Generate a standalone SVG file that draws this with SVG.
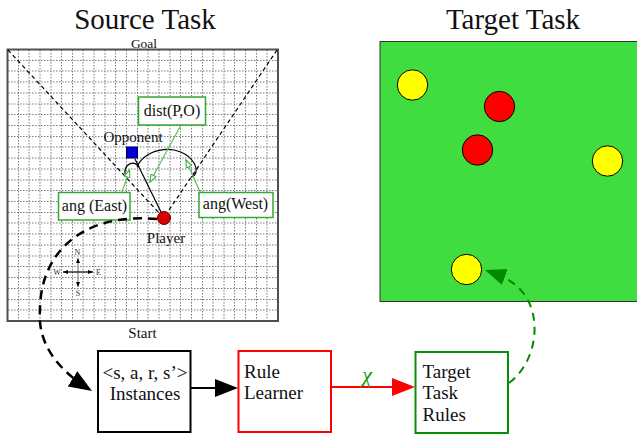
<svg xmlns="http://www.w3.org/2000/svg" width="637" height="435" viewBox="0 0 637 435">
  <style>
    text { font-family: "Liberation Serif", "Times New Roman", serif; fill: #111; }
    .title { font-size: 29px; text-anchor: middle; }
    .lbl { font-size: 15px; text-anchor: middle; }
    .small { font-size: 13.5px; }
    .tag { font-size: 16px; text-anchor: middle; }
    .big { font-size: 19px; }
    .mid { text-anchor: middle; }
    .tiny { font-size: 8px; text-anchor: middle; fill: #333; }
    .grid { stroke: #7a7a7a; stroke-width: 1; stroke-dasharray: 1.5 1.5; fill: none; }
    .diag { stroke: #000; stroke-width: 1.2; stroke-dasharray: 4 3; fill: none; }
    .tagbox { fill: #fff; stroke: #33a833; stroke-width: 1.5; }
    .pointer { stroke: #5cbf5c; stroke-width: 1.2; fill: none; marker-end: url(#hollow); }
    .arc { stroke: #000; stroke-width: 1.2; fill: none; }
    .ball { stroke: #000; stroke-width: 1; }
  </style>
  <defs>
    <marker id="headBlack" markerUnits="userSpaceOnUse" viewBox="0 0 23 18" markerWidth="23" markerHeight="18" refX="19" refY="9" orient="auto">
      <path d="M0,0 L23,9 L0,18 z" fill="#000"/>
    </marker>
    <marker id="headRed" markerUnits="userSpaceOnUse" viewBox="0 0 23 18" markerWidth="23" markerHeight="18" refX="19" refY="9" orient="auto">
      <path d="M0,0 L23,9 L0,18 z" fill="#ff0000"/>
    </marker>
    <marker id="headGreen" markerUnits="userSpaceOnUse" viewBox="0 0 21 17" markerWidth="21" markerHeight="17" refX="17" refY="8.5" orient="auto">
      <path d="M0,0 L21,8.5 L0,17 z" fill="#008a00"/>
    </marker>
    <marker id="hollow" markerUnits="userSpaceOnUse" viewBox="0 0 9 7" markerWidth="9" markerHeight="7" refX="8" refY="3.5" orient="auto">
      <path d="M0.6,0.6 L8.2,3.5 L0.6,6.4 z" fill="#fff" stroke="#33a833" stroke-width="1"/>
    </marker>
    <marker id="tick" markerUnits="userSpaceOnUse" viewBox="0 0 5 4" markerWidth="5" markerHeight="4" refX="5" refY="2" orient="auto-start-reverse">
      <path d="M0,0 L5,2 L0,4 z" fill="#000"/>
    </marker>
  </defs>

  <!-- Source task: grid field with player, opponent and angle features -->
  <g id="source-task">
    <text class="title" x="145" y="29">Source Task</text>
    <text class="lbl small" x="144" y="47.5">Goal</text>
    <rect x="7.5" y="49.5" width="270.5" height="271.5" fill="#fff"/>
    <path class="grid" d="M18.5,50V321M29,50V321M40,50V321M51,50V321M61.5,50V321M72.5,50V321M83,50V321M94,50V321M105,50V321M115.5,50V321M126.5,50V321M137.5,50V321M148,50V321M159,50V321M170,50V321M180.5,50V321M191.5,50V321M202.5,50V321M213,50V321M224,50V321M234.5,50V321M245.5,50V321M256.5,50V321M267,50V321"/>
    <path class="grid" d="M8,60.5H278M8,71H278M8,82H278M8,93H278M8,104H278M8,114.5H278M8,125.5H278M8,136.5H278M8,147H278M8,158H278M8,169H278M8,180H278M8,190.5H278M8,201.5H278M8,212.5H278M8,223H278M8,234H278M8,245H278M8,256H278M8,266.5H278M8,277.5H278M8,288.5H278M8,299.5H278M8,310H278"/>
    <rect x="7.5" y="49.5" width="270.5" height="271.5" fill="none" stroke="#505050" stroke-width="2"/>
    <text class="lbl" x="142.5" y="337.5">Start</text>

    <!-- sight lines from the goal corners to the player -->
    <path class="diag" d="M8,50 L160,214"/>
    <path class="diag" d="M277,50 L167,213"/>

    <!-- player-to-opponent line and angle arcs -->
    <path d="M135,159 L161,212" stroke="#000" stroke-width="1.2" fill="none"/>
    <path class="arc" d="M125,174 C124,165 133,159 139,167"/>
    <path class="arc" d="M137,167 C145,147 181,142 194,163 C198,170 196,176 191,177"/>

    <g id="opponent">
      <rect x="126.5" y="147" width="11" height="11" fill="#0000dd" stroke="#000055" stroke-width="1"/>
      <text class="lbl" x="133" y="141.5">Opponent</text>
    </g>
    <g id="player">
      <circle cx="164" cy="218" r="6.5" fill="#dd0000" stroke="#550000" stroke-width="1"/>
      <text class="lbl" x="166" y="242.5">Player</text>
    </g>

    <!-- feature labels with pointers -->
    <path class="pointer" d="M181,125 L150,182"/>
    <path class="pointer" d="M122,192 L129.5,170"/>
    <path class="pointer" d="M200,192 L186,160"/>
    <g id="dist-label">
      <rect class="tagbox" x="138.5" y="97" width="67" height="28"/>
      <text class="tag" x="172" y="116">dist(P,O)</text>
    </g>
    <g id="ang-east-label">
      <rect class="tagbox" x="58.5" y="192.5" width="71.5" height="27.5"/>
      <text class="tag" x="94.5" y="210.5">ang (East)</text>
    </g>
    <g id="ang-west-label">
      <rect class="tagbox" x="199" y="192.5" width="74" height="25"/>
      <text class="tag" x="235.5" y="208.5">ang(West)</text>
    </g>

    <!-- compass -->
    <g id="compass">
      <path d="M78,258 V287" stroke="#888" stroke-width="1.2" marker-start="url(#tick)" marker-end="url(#tick)"/>
      <path d="M63,272 H93" stroke="#000" stroke-width="1.2" marker-start="url(#tick)" marker-end="url(#tick)"/>
      <text class="tiny" x="77.5" y="254.5">N</text>
      <text class="tiny" x="78" y="296">S</text>
      <text class="tiny" x="57" y="275">W</text>
      <text class="tiny" x="98.5" y="275">E</text>
    </g>
  </g>

  <!-- Target task: green field with balls -->
  <g id="target-task">
    <text class="title" x="513" y="29">Target Task</text>
    <rect x="380" y="41.5" width="262" height="260" fill="#40dd40" stroke="#333" stroke-width="1"/>
    <circle class="ball" cx="412.5" cy="85" r="15.2" fill="#ffff00"/>
    <circle class="ball" cx="499.5" cy="106.5" r="15.2" fill="#ff0000"/>
    <circle class="ball" cx="477.5" cy="150" r="15.2" fill="#ff0000"/>
    <circle class="ball" cx="607.5" cy="161" r="15.2" fill="#ffff00"/>
    <circle class="ball" cx="466.5" cy="269.5" r="15.2" fill="#ffff00"/>
  </g>

  <!-- Pipeline boxes -->
  <g id="instances">
    <rect x="98" y="351" width="92.5" height="81" fill="#fff" stroke="#000" stroke-width="2"/>
    <text class="big mid" x="145" y="379">&lt;s, a, r, s’&gt;</text>
    <text class="big mid" x="145" y="400">Instances</text>
  </g>
  <g id="rule-learner">
    <rect x="238.5" y="351" width="92.5" height="81" fill="#fff" stroke="#ff0000" stroke-width="2"/>
    <text class="big" x="244" y="377.5">Rule</text>
    <text class="big" x="244" y="399">Learner</text>
  </g>
  <g id="target-rules">
    <rect x="415.5" y="352" width="92.5" height="81" fill="#fff" stroke="#0a8f0a" stroke-width="2"/>
    <text class="big" x="422.5" y="377.5">Target</text>
    <text class="big" x="422.5" y="399">Task</text>
    <text class="big" x="422.5" y="420.5">Rules</text>
  </g>

  <!-- Connectors -->
  <g id="connectors">
    <path d="M157,219 C80,212 40,255 40,310 C37,345 60,371 88.6,388.9" fill="none" stroke="#000" stroke-width="2.5" stroke-dasharray="9 6" marker-end="url(#headBlack)"/>
    <path d="M191,388 L234,388" fill="none" stroke="#000" stroke-width="2" marker-end="url(#headBlack)"/>
    <path d="M332,387 L411,387" fill="none" stroke="#ff0000" stroke-width="2" marker-end="url(#headRed)"/>
    <text class="mid" x="367" y="382" style="font-size:22px; font-style:italic; fill:#119911">χ</text>
    <path d="M509,383 C537,362 542,318 524,294 C514,281 502,276 488.8,271.3" fill="none" stroke="#008a00" stroke-width="2" stroke-dasharray="8 6" marker-end="url(#headGreen)"/>
  </g>
</svg>
